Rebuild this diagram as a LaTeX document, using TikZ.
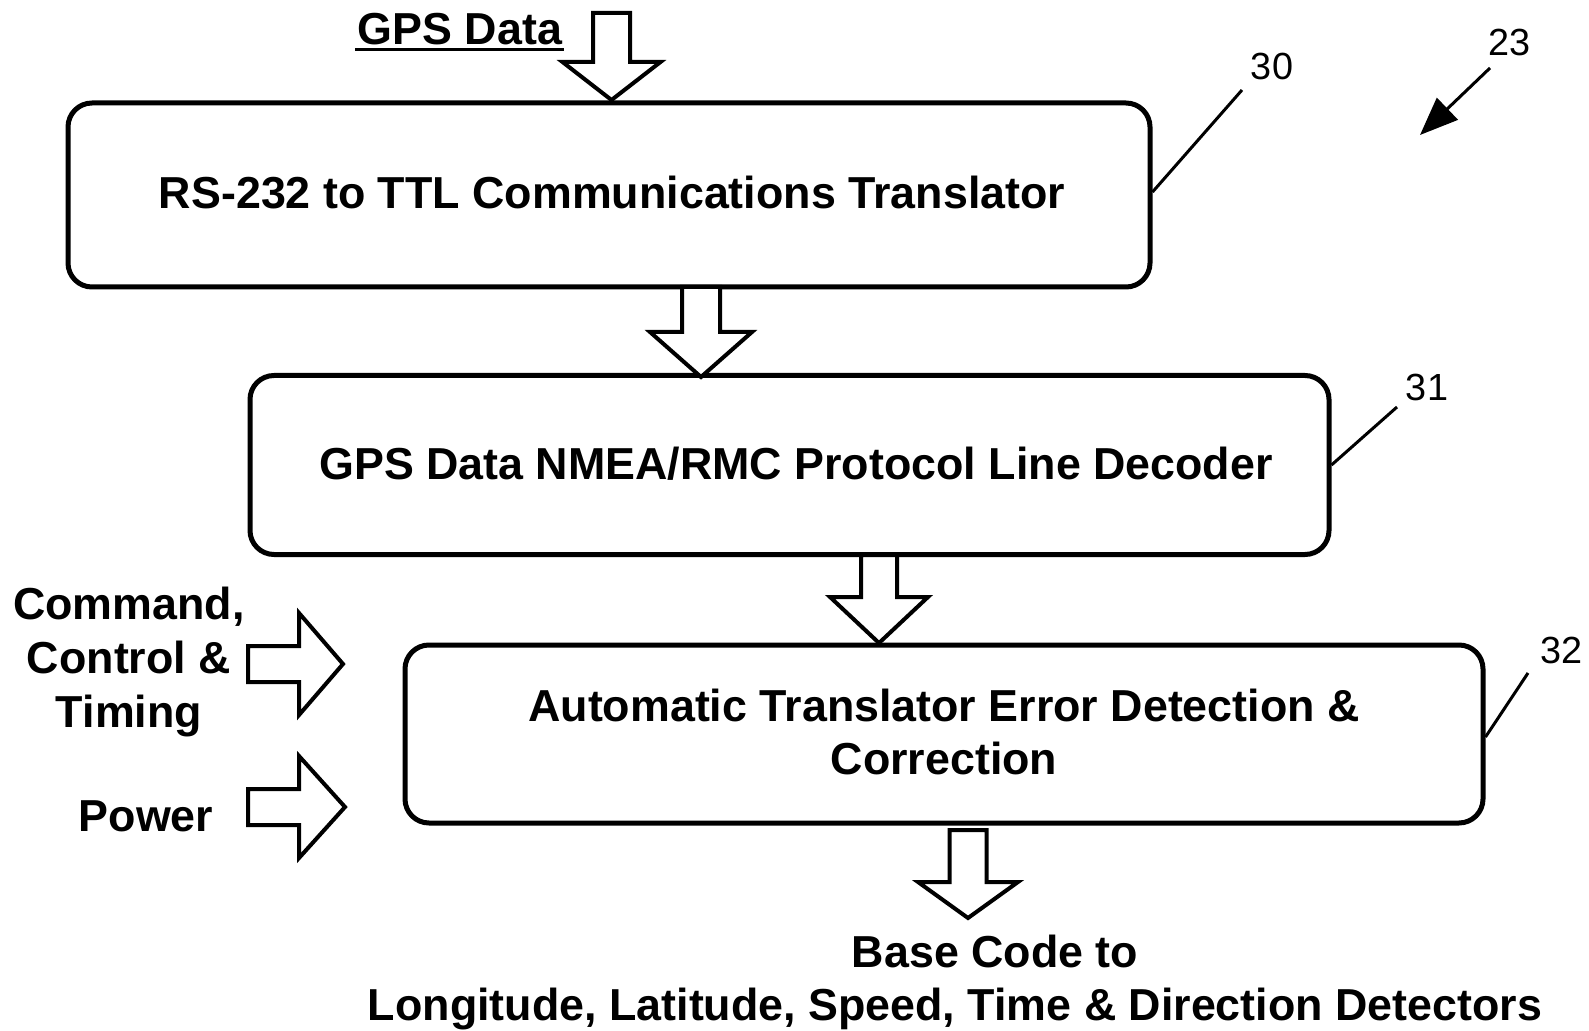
\documentclass[tikz,border=0pt]{standalone}
\usepackage{fontspec}
\setmainfont{Liberation Sans}
\usetikzlibrary{calc,arrows.meta}
\tikzset{
  x=0.5pt, y=-0.5pt,
  blkbox/.style={draw, line width=2.5pt, rounded corners=12pt, inner sep=0pt},
  blkarrow/.style={draw, line width=2pt, fill=white, line join=miter},
  maintxt/.style={font=\fontsize{22.4}{26.85}\selectfont\bfseries, inner sep=0pt, align=center},
  numtxt/.style={font=\fontsize{18.9}{22}\selectfont, inner sep=0pt},
  leader/.style={line width=1.5pt},
}
% down block arrow: xc, ytop, ytip, shaft half width, head half width, head length
\newcommand\blkdown[6]{%
  \draw[blkarrow] (#1-#4,#2) -- (#1-#4,#3-#6) -- (#1-#5,#3-#6) -- (#1,#3)
    -- (#1+#5,#3-#6) -- (#1+#4,#3-#6) -- (#1+#4,#2) -- cycle;}
% right block arrow: yc, xleft, xtip, shaft half width, head half width, head length
\newcommand\blkright[6]{%
  \draw[blkarrow] (#2,#1-#4) -- (#3-#6,#1-#4) -- (#3-#6,#1-#5) -- (#3,#1)
    -- (#3-#6,#1+#5) -- (#3-#6,#1+#4) -- (#2,#1+#4) -- cycle;}
\begin{document}
\begin{tikzpicture}
\useasboundingbox (0,0) rectangle (1589,1031);
\fill[white] (0,0) rectangle (1589,1031);

% boxes
\node[blkbox, minimum width=1082*0.5pt, minimum height=184*0.5pt] (b1) at (609,195) {};
\node[blkbox, minimum width=1079*0.5pt, minimum height=179*0.5pt] (b2) at (789.5,465) {};
\node[blkbox, minimum width=1078*0.5pt, minimum height=178*0.5pt] (b3) at (944,734) {};

\node[maintxt] (t1) at (612,193) {RS-232 to TTL Communications Translator};
\node[maintxt] (t2) at (796,464) {GPS Data NMEA/RMC Protocol Line Decoder};
\node[maintxt] (t3) at (944,732) {Automatic Translator Error Detection \&\\Correction};

% GPS Data input
\node[maintxt] (gps) at (460,29) {GPS Data};
\draw[line width=1.5pt] (355,50) -- (564,50);
\blkdown{611.5}{13}{100}{18.5}{49}{38}
% between boxes
\blkdown{701}{287}{377}{19}{51}{45}
\blkdown{879}{555}{643}{18}{49}{46}
% output
\blkdown{968}{830}{918}{18.5}{50}{36}
\node[maintxt] (out1) at (995,951) {Base Code to};
\node[maintxt] (out2) at (955,1009) {Longitude, Latitude, Speed, Time \& Direction Detectors};

% left inputs
\node[maintxt] (cmd) at (129,662) {Command,\\Control \&\\Timing};
\blkright{664}{248}{343}{18}{51}{44}
\node[maintxt] (pwr) at (146,816) {Power};
\blkright{807}{248}{345}{18}{51}{46}

% reference numerals
\node[numtxt] (n30) at (1272,66) {30};
\coordinate (l30) at (1242,90);
\draw[leader] (l30) -- (b1.east |- 0,192);
\node[numtxt] (n31) at (1427,387) {31};
\coordinate (l31) at (1397,407);
\draw[leader] (l31) -- (b2.east |- 0,465);
\node[numtxt] (n32) at (1561,650) {32};
\coordinate (l32) at (1528,673);
\draw[leader] (l32) -- (b3.east |- 0,737);
\node[numtxt] (n23) at (1509,42) {23};
\coordinate (a23s) at (1490,68);
\coordinate (a23e) at (1420,135);
\draw[leader, -{Triangle[length=19pt,width=15pt]}] (a23s) -- (a23e);
\end{tikzpicture}
\end{document}
